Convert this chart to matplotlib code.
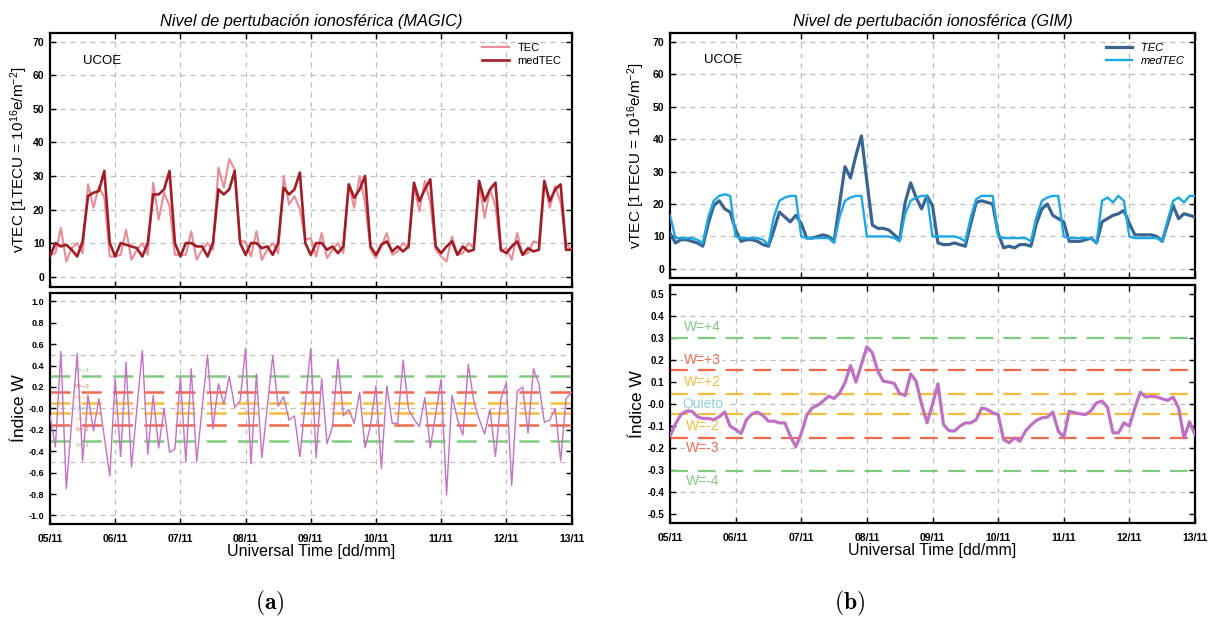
import matplotlib
matplotlib.use('Agg')
import matplotlib.pyplot as plt
import matplotlib.dates as mdates
import numpy as np
import pandas as pd

plt.rcParams['font.family'] = ['Liberation Sans', 'DejaVu Sans']
plt.rcParams['mathtext.fontset'] = 'custom'
plt.rcParams['mathtext.rm'] = 'Liberation Sans'
plt.rcParams['mathtext.it'] = 'Liberation Sans:italic'

# 2-hourly samples, 05/11 00 UT -> 13/11 00 UT
times = pd.date_range('2021-11-05 00:00', periods=97, freq='2h')
station = 'UCOE'

# MAGIC (left)
tec_magic = [6.5, 7, 14.5, 4.5, 8.5, 10, 7, 27.5, 20.5, 27, 23.5, 6,
             6, 6.5, 14, 5, 8, 10, 6.5, 28, 17, 25, 21, 6.5,
             6.5, 6.5, 13.5, 5, 8, 10, 8, 32.5, 26.5, 35, 32, 10.5,
             10.5, 6, 13.5, 5, 8, 10, 7, 30, 21.5, 24, 20, 11,
             11.5, 6, 13, 5.5, 8, 10, 7, 27.5, 20.5, 30, 22, 8,
             5.5, 9, 13, 6.5, 7.5, 10, 8.5, 27, 19.5, 28.5, 22, 8,
             6, 4.5, 12, 6.5, 7, 10, 8.5, 28, 17.5, 26, 21, 7.5,
             8.5, 5, 13, 6.5, 7, 10.5, 10, 28.5, 20.5, 27, 22, 10,
             8]
medtec_magic = [6, 10, 9, 9.5, 8, 6, 10.5, 24, 25, 25.5, 31.5, 10,
                6, 10, 9.5, 9, 8.5, 6, 10, 24.5, 24.5, 26, 31.5, 10,
                6, 10, 10, 9, 9, 6, 10, 26, 24.5, 26, 31.5, 10,
                6.5, 10, 10, 8.5, 9, 6.5, 10, 26.5, 24.5, 26, 31, 10,
                6.5, 10, 10, 8, 9, 7, 9, 27.5, 23.5, 26, 30, 9,
                6.5, 9.5, 10.5, 7.5, 9, 7.5, 9, 28, 22.5, 26, 29, 9,
                7, 9, 10.5, 6.5, 9, 7.5, 8, 28.5, 22.5, 26, 28, 8,
                7, 9, 10.5, 6.5, 8.5, 7.5, 8, 28.5, 22.5, 26, 27.5, 8,
                8]
w_magic = [-0.07, -0.36, 0.53, -0.75, -0.12, 0.51, -0.49, 0.12, -0.21, 0.09, -0.27, -0.63,
           0.28, -0.45, 0.43, -0.55, 0.0, 0.54, -0.43, 0.12, -0.37, 0.0, -0.41, -0.38,
           0.29, -0.5, 0.37, -0.5, 0.0, 0.5, -0.19, 0.23, 0.04, 0.3, 0.01, 0.07,
           0.56, -0.52, 0.32, -0.46, 0.01, 0.49, 0.02, 0.11, -0.11, -0.07, -0.45, 0.05,
           0.56, -0.46, 0.28, -0.33, -0.17, 0.46, -0.07, -0.01, -0.14, 0.15, -0.37, -0.16,
           0.21, -0.56, 0.21, -0.14, -0.14, 0.45, -0.01, -0.1, -0.17, 0.1, -0.37, -0.05,
           0.27, -0.81, 0.12, -0.1, -0.25, 0.41, 0.07, -0.1, -0.24, -0.01, -0.45, 0.09,
           0.24, -0.72, 0.16, 0.2, -0.23, 0.37, 0.23, -0.13, -0.11, 0.0, -0.49, 0.09,
           0.15]

# GIM (right)
tec_gim = [11, 8, 9, 9, 8.5, 8, 7, 14, 19.5, 21, 18.5, 17.5,
           12, 8.5, 9, 9, 8.5, 7.5, 7, 12, 17.5, 16, 14.5, 16.5,
           14, 9.5, 9.5, 10, 10.5, 10, 8.5, 20, 31.5, 28, 35, 41,
           27, 13.5, 12.5, 12.5, 12, 10.5, 9, 20.5, 26.5, 22, 18.5, 22.5,
           19.5, 8, 7.5, 7.5, 8, 7.5, 7, 14, 20.5, 21, 20.5, 20,
           11, 6.5, 7, 6.5, 7.5, 7.5, 7, 14, 18.5, 20, 16.5, 15.5,
           14.5, 8.5, 8.5, 8.5, 9, 9.5, 8, 14.5, 15.5, 16.5, 17, 18,
           14, 10.5, 10.5, 10.5, 10.5, 10, 8.5, 14, 19.5, 15.5, 17, 16.5,
           16]
medtec_gim = [16.5, 9.5, 9.5, 9.5, 9.5, 9, 8, 16, 21, 22.5, 23, 22.5,
              10, 9.5, 9.5, 9.5, 9.5, 9, 7.5, 16, 21, 22, 22.5, 22.5,
              10, 9.5, 9.5, 9.5, 9.5, 9.5, 8, 16, 21, 22, 22.5, 22.5,
              10, 10, 10, 10, 10, 9.5, 8.5, 17, 21, 22, 22.5, 22.5,
              10, 10, 10, 10, 10, 9.5, 8.5, 16, 21.5, 22.5, 22.5, 22.5,
              10, 9.5, 9.5, 9.5, 9.5, 9.5, 8.5, 16, 21, 22, 22.5, 22.5,
              10, 9.5, 9.5, 9.5, 9.5, 9.5, 8, 21, 22, 20.5, 22.5, 21,
              10, 9.5, 9.5, 9.5, 9.5, 9.5, 8.5, 15, 21, 22, 20.5, 22.5,
              22.5]
w_gim = [-0.145, -0.09, -0.047, -0.032, -0.032, -0.057, -0.065, -0.065, -0.07, -0.057, -0.036, -0.1,
         -0.115, -0.133, -0.07, -0.044, -0.036, -0.051, -0.077, -0.077, -0.085, -0.085, -0.145, -0.193,
         -0.133, -0.05, -0.017, -0.005, 0.014, 0.036, 0.026, 0.05, 0.097, 0.175, 0.1, 0.18,
         0.26, 0.233, 0.15, 0.104, 0.1, 0.094, 0.048, 0.039, 0.137, 0.104, 0.0, -0.085,
         0.0, 0.092, -0.092, -0.12, -0.122, -0.1, -0.085, -0.085, -0.07, -0.017, -0.024, -0.039,
         -0.047, -0.16, -0.175, -0.153, -0.168, -0.122, -0.095, -0.074, -0.062, -0.059, -0.036, -0.122,
         -0.15, -0.032, -0.039, -0.044, -0.047, -0.029, 0.006, 0.014, -0.014, -0.13, -0.13, -0.085,
         -0.1, -0.017, 0.054, 0.032, 0.036, 0.033, 0.024, 0.017, 0.032, -0.017, -0.153, -0.08,
         -0.138]

# W index thresholds and labels
thresholds = [0.301, 0.155, 0.046]
thr_colors = ['#7fcc7f', '#f06a4a', '#f6bd3c']
w_labels = ['W=+4', 'W=+3', 'W=+2', 'Quieto', 'W=-2', 'W=-3', 'W=-4']
w_label_y = [0.35, 0.2, 0.1, 0.0, -0.1, -0.2, -0.35]
w_label_colors = ['#7fcc7f', '#f06a4a', '#f6bd3c', '#8ecfe0', '#f6bd3c', '#f06a4a', '#7fcc7f']

W, H = 1211, 620
fig = plt.figure(figsize=(W / 100, H / 100), dpi=100)


def box(x0, x1, y0, y1):
    return [x0 / W, 1 - y1 / H, (x1 - x0) / W, (y1 - y0) / H]


x_start = times[0]
x_end = times[-1]
grid_kw = dict(color='#bdbdbd', lw=0.9, ls=(0, (4, 4)), zorder=0)


def style(ax, xlabels):
    ax.set_xlim(x_start, x_end)
    ax.xaxis.set_major_locator(mdates.DayLocator())
    ax.xaxis.set_major_formatter(mdates.DateFormatter('%d/%m'))
    ax.tick_params(direction='in', length=4, width=1, top=True, right=True,
                   labelsize=7.5, pad=4)
    ax.tick_params(axis='x', pad=7)
    for lab in ax.get_yticklabels() + ax.get_xticklabels():
        lab.set_fontweight('bold')
    if not xlabels:
        ax.tick_params(labelbottom=False)
    for s in ax.spines.values():
        s.set_linewidth(1.6)
    for d in pd.date_range(x_start, x_end, freq='D')[1:-1]:
        ax.axvline(d, **grid_kw)


def top_panel(ax, tec, medtec, c_tec, c_med, lw_tec, lw_med, italic, ylpad):
    ax.plot(times, tec, color=c_tec, lw=lw_tec, label='TEC', zorder=3)
    ax.plot(times, medtec, color=c_med, lw=lw_med, label='medTEC', zorder=3)
    ax.set_yticks(np.arange(0, 71, 10))
    for v in np.arange(0, 71, 10):
        ax.axhline(v, **grid_kw)
    style(ax, False)
    ax.set_ylabel('vTEC [1TECU = 10$^{16}$e/m$^{-2}$]', fontsize=11, labelpad=ylpad)
    ax.text(0.064, 0.89, station, transform=ax.transAxes, fontsize=9.5, va='center')
    ax.legend(loc='upper right', frameon=False, handlelength=2.4,
              borderaxespad=0.5, labelspacing=0.25,
              prop={'style': 'italic' if italic else 'normal', 'size': 8})


def bottom_panel(ax, w, c_w, lw_w, ylim, yticks, ygrid, lab_size, thr_lw, box_on, ylpad):
    for th, c in zip(thresholds, thr_colors):
        ax.axhline(th, color=c, lw=thr_lw, ls=(0, (8, 4.5)), zorder=2)
        ax.axhline(-th, color=c, lw=thr_lw, ls=(0, (8, 4.5)), zorder=2)
    for v in ygrid:
        ax.axhline(v, **grid_kw)
    ax.plot(times, w, color=c_w, lw=lw_w, zorder=4)
    ax.set_ylim(*ylim)
    ax.set_yticks(yticks)
    ax.set_yticklabels(['{:.1f}'.format(v) for v in yticks])
    style(ax, True)
    ax.set_ylabel('Índice W', fontsize=12.5, labelpad=ylpad)
    ax.set_xlabel('Universal Time [dd/mm]', fontsize=11.5, labelpad=0)
    xt = x_start + pd.Timedelta(hours=12)
    for t, y, c in zip(w_labels, w_label_y, w_label_colors):
        kw = dict(boxstyle='square,pad=0.1', fc='white', ec='none') if box_on else None
        ax.text(xt, y, t, color=c, fontsize=lab_size, ha='center', va='center',
                zorder=3, bbox=kw)


# left column (MAGIC)
axa = fig.add_axes(box(50, 571.5, 33, 286.7))
top_panel(axa, tec_magic, medtec_magic, '#e98c97', '#a11d24', 1.5, 1.9, False, 2)
axa.set_ylim(-3, 72.6)
axa.set_title('Nivel de pertubación ionosférica (MAGIC)', fontsize=11.8,
              style='italic', pad=5)

axc = fig.add_axes(box(50, 571.5, 292.7, 524))
bottom_panel(axc, w_magic, '#c66fc6', 1.0, (-1.08, 1.08),
             np.round(np.arange(-1.0, 1.01, 0.2), 1), [-1.0, -0.5, 0.0, 0.5, 1.0],
             4, 1.8, False, 1)
axc.tick_params(axis='y', labelsize=6.5)
for lab in axc.get_yticklabels():
    lab.set_fontweight('bold')

# right column (GIM)
axb = fig.add_axes(box(670, 1195, 33, 278))
top_panel(axb, tec_gim, medtec_gim, '#3a6590', '#1ca8e4', 2.3, 1.7, True, 4)
axb.set_ylim(-2.8, 72.7)
axb.set_title('Nivel de pertubación ionosférica (GIM)', fontsize=11.8,
              style='italic', pad=5)

axd = fig.add_axes(box(670, 1195, 285, 523.3))
bottom_panel(axd, w_gim, '#c070c4', 2.3, (-0.54, 0.54),
             np.round(np.arange(-0.5, 0.51, 0.1), 1), [-0.4, -0.2, 0.0, 0.2, 0.4],
             10, 1.6, True, 2)
axd.tick_params(axis='y', labelsize=7)
for lab in axd.get_yticklabels():
    lab.set_fontweight('bold')

fig.text(270 / W, 1 - 603 / H, r'$\mathbf{(a)}$', fontsize=17, ha='center', va='center',
         math_fontfamily='cm')
fig.text(850 / W, 1 - 603 / H, r'$\mathbf{(b)}$', fontsize=17, ha='center', va='center',
         math_fontfamily='cm')

fig.savefig('out.png', dpi=100)
